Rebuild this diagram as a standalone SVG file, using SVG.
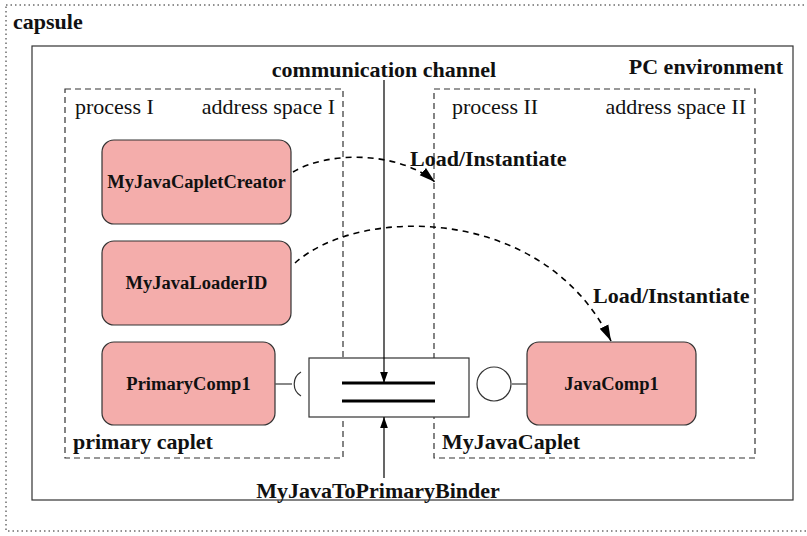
<svg xmlns="http://www.w3.org/2000/svg" width="807" height="536" viewBox="0 0 807 536">
  <style>
    text { font-family: "Liberation Serif", "Times New Roman", serif; fill: #111; }
    .title { font-size: 22px; font-weight: bold; }
    .lbl { font-size: 22px; }
    .node rect { fill: #f4adab; stroke: #333; stroke-width: 1.2; }
    .node text { font-size: 18.5px; font-weight: bold; text-anchor: middle; }
    .proc { fill: none; stroke: #333; stroke-width: 1.2; stroke-dasharray: 6 4; }
    .flow { fill: none; stroke: #000; stroke-width: 1.6; stroke-dasharray: 6 5; }
    .wire { fill: none; stroke: #555; stroke-width: 1.4; }
  </style>
  <defs>
    <marker id="arrow" viewBox="0 0 10 10" refX="10" refY="5" markerWidth="11" markerHeight="11" markerUnits="userSpaceOnUse" orient="auto">
      <path d="M0,1.5 L10,5 L0,8.5 Z" fill="#000"/>
    </marker>
    <marker id="arrowL" viewBox="0 0 10 10" refX="10" refY="5" markerWidth="16" markerHeight="16" markerUnits="userSpaceOnUse" orient="auto">
      <path d="M0,2 L10,5 L0,8 Z" fill="#000"/>
    </marker>
  </defs>

  <!-- capsule boundary -->
  <g id="capsule">
    <rect x="6" y="5" width="812" height="526" fill="none" stroke="#222" stroke-width="1" stroke-dasharray="1.5 3"/>
    <text x="13" y="29" class="title">capsule</text>
  </g>

  <!-- PC environment -->
  <g id="pc-environment">
    <rect x="32" y="46" width="761" height="454" fill="none" stroke="#333" stroke-width="1.2"/>
    <text x="783" y="74" class="title" text-anchor="end">PC environment</text>
  </g>

  <!-- process I / primary caplet -->
  <g id="process-1">
    <rect x="65" y="89" width="278" height="369" class="proc"/>
    <text x="75" y="114" class="lbl">process I</text>
    <text x="335" y="114" class="lbl" text-anchor="end">address space I</text>
    <text x="73" y="449" class="title">primary caplet</text>
  </g>

  <!-- process II / MyJavaCaplet -->
  <g id="process-2">
    <rect x="434" y="89" width="321" height="369" class="proc"/>
    <text x="452" y="114" class="lbl">process II</text>
    <text x="746" y="114" class="lbl" text-anchor="end">address space II</text>
    <text x="442" y="449" class="title">MyJavaCaplet</text>
  </g>

  <g id="caplet-creator" class="node">
    <rect x="102" y="140" width="189" height="84" rx="12"/>
    <text x="196.5" y="188">MyJavaCapletCreator</text>
  </g>

  <g id="loader-id" class="node">
    <rect x="102" y="241" width="189" height="84" rx="12"/>
    <text x="196.5" y="289">MyJavaLoaderID</text>
  </g>

  <g id="primary-comp" class="node">
    <rect x="102" y="342" width="173" height="83" rx="12"/>
    <text x="188.5" y="390">PrimaryComp1</text>
  </g>

  <g id="java-comp" class="node">
    <rect x="527" y="342" width="169" height="83" rx="12"/>
    <text x="611.5" y="390">JavaComp1</text>
  </g>

  <!-- binder component -->
  <g id="binder">
    <rect x="309" y="358" width="160" height="59" fill="#fff" stroke="#333" stroke-width="1.2"/>
    <line x1="342" y1="383" x2="435" y2="383" stroke="#000" stroke-width="3"/>
    <line x1="342" y1="401" x2="435" y2="401" stroke="#000" stroke-width="3"/>
    <text x="378" y="498" class="title" text-anchor="middle">MyJavaToPrimaryBinder</text>
  </g>

  <g id="channel-label">
    <text x="384" y="77" class="title" text-anchor="middle">communication channel</text>
  </g>

  <!-- connectors -->
  <g id="connectors">
    <!-- provided / required interfaces -->
    <line x1="275" y1="384" x2="292" y2="384" class="wire"/>
    <path d="M301,372 A14,14 0 0 0 301,396" fill="none" stroke="#333" stroke-width="1.2"/>
    <line x1="512" y1="384" x2="527" y2="384" class="wire"/>
    <circle cx="494" cy="384" r="17" fill="#fff" stroke="#333" stroke-width="1.2"/>

    <!-- communication channel into binder -->
    <line x1="384" y1="80" x2="384" y2="383" stroke="#000" stroke-width="1.2" marker-end="url(#arrow)"/>
    <line x1="384" y1="478" x2="384" y2="417" stroke="#000" stroke-width="1.2" marker-end="url(#arrow)"/>

    <!-- load / instantiate -->
    <path d="M293,172 C330,150 400,152 435,182" class="flow" marker-end="url(#arrowL)"/>
    <text x="410" y="166" class="title">Load/Instantiate</text>
    <path d="M295,263 C360,205 545,205 611,341" class="flow" marker-end="url(#arrowL)"/>
    <text x="593" y="303" class="title">Load/Instantiate</text>
  </g>
</svg>
